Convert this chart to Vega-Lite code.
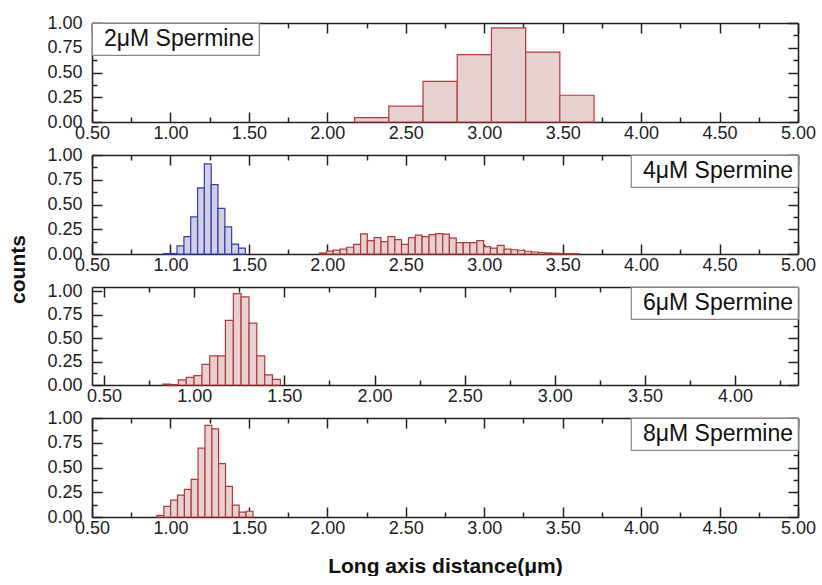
{
  "$schema": "https://vega.github.io/schema/vega-lite/v6.json",
  "background": "white",
  "padding": {"left": 7, "top": 14, "right": 0, "bottom": 0},
  "bounds": "flush",
  "spacing": 33,
  "config": {
    "font": "Liberation Sans",
    "view": {"stroke": null},
    "axis": {
      "domain": true, "domainColor": "#222", "domainWidth": 1.6, "grid": false, "tickColor": "#222", "tickWidth": 1.5,
      "labelFlush": false, "labelOverlap": false,
      "labelFont": "Liberation Sans", "labelFontSize": 18, "labelColor": "#222",
      "titleFont": "Liberation Sans", "titleFontSize": 21, "titleFontWeight": "bold", "titleColor": "#111"
    },
    "legend": {
      "title": null, "padding": 4, "strokeColor": "#888", "fillColor": "white", "strokeWidth": 1.2,
      "labelFont": "Liberation Sans", "labelFontSize": 23, "labelColor": "#111", "labelOffset": -15,
      "symbolSize": 0, "symbolStrokeWidth": 0, "symbolOpacity": 0, "symbolFillColor": "transparent",
      "offset": 0
    }
  },
  "datasets": {
    "p1": [
      {"x0": 2.174, "x1": 2.392, "n": 0.045, "g": "r", "lab": "2μM Spermine"},
      {"x0": 2.392, "x1": 2.610, "n": 0.16, "g": "r", "lab": "2μM Spermine"},
      {"x0": 2.610, "x1": 2.828, "n": 0.41, "g": "r", "lab": "2μM Spermine"},
      {"x0": 2.828, "x1": 3.046, "n": 0.68, "g": "r", "lab": "2μM Spermine"},
      {"x0": 3.046, "x1": 3.264, "n": 0.95, "g": "r", "lab": "2μM Spermine"},
      {"x0": 3.264, "x1": 3.482, "n": 0.705, "g": "r", "lab": "2μM Spermine"},
      {"x0": 3.482, "x1": 3.700, "n": 0.27, "g": "r", "lab": "2μM Spermine"}
    ],
    "p2": [
      {"x0": 0.955, "x1": 0.999, "n": 0.005, "g": "b", "lab": "4μM Spermine"},
      {"x0": 0.999, "x1": 1.042, "n": 0.005, "g": "b", "lab": "4μM Spermine"},
      {"x0": 1.042, "x1": 1.086, "n": 0.083, "g": "b", "lab": "4μM Spermine"},
      {"x0": 1.086, "x1": 1.129, "n": 0.175, "g": "b", "lab": "4μM Spermine"},
      {"x0": 1.129, "x1": 1.173, "n": 0.375, "g": "b", "lab": "4μM Spermine"},
      {"x0": 1.173, "x1": 1.216, "n": 0.667, "g": "b", "lab": "4μM Spermine"},
      {"x0": 1.216, "x1": 1.260, "n": 0.91, "g": "b", "lab": "4μM Spermine"},
      {"x0": 1.260, "x1": 1.303, "n": 0.70, "g": "b", "lab": "4μM Spermine"},
      {"x0": 1.303, "x1": 1.347, "n": 0.46, "g": "b", "lab": "4μM Spermine"},
      {"x0": 1.347, "x1": 1.390, "n": 0.275, "g": "b", "lab": "4μM Spermine"},
      {"x0": 1.390, "x1": 1.434, "n": 0.10, "g": "b", "lab": "4μM Spermine"},
      {"x0": 1.434, "x1": 1.477, "n": 0.06, "g": "b", "lab": "4μM Spermine"},
      {"x0": 1.950, "x1": 1.994, "n": 0.01, "g": "r", "lab": "4μM Spermine"},
      {"x0": 1.994, "x1": 2.037, "n": 0.03, "g": "r", "lab": "4μM Spermine"},
      {"x0": 2.037, "x1": 2.081, "n": 0.04, "g": "r", "lab": "4μM Spermine"},
      {"x0": 2.081, "x1": 2.124, "n": 0.05, "g": "r", "lab": "4μM Spermine"},
      {"x0": 2.124, "x1": 2.168, "n": 0.068, "g": "r", "lab": "4μM Spermine"},
      {"x0": 2.168, "x1": 2.212, "n": 0.097, "g": "r", "lab": "4μM Spermine"},
      {"x0": 2.212, "x1": 2.255, "n": 0.203, "g": "r", "lab": "4μM Spermine"},
      {"x0": 2.255, "x1": 2.299, "n": 0.135, "g": "r", "lab": "4μM Spermine"},
      {"x0": 2.299, "x1": 2.342, "n": 0.165, "g": "r", "lab": "4μM Spermine"},
      {"x0": 2.342, "x1": 2.386, "n": 0.125, "g": "r", "lab": "4μM Spermine"},
      {"x0": 2.386, "x1": 2.430, "n": 0.175, "g": "r", "lab": "4μM Spermine"},
      {"x0": 2.430, "x1": 2.473, "n": 0.145, "g": "r", "lab": "4μM Spermine"},
      {"x0": 2.473, "x1": 2.517, "n": 0.097, "g": "r", "lab": "4μM Spermine"},
      {"x0": 2.517, "x1": 2.560, "n": 0.165, "g": "r", "lab": "4μM Spermine"},
      {"x0": 2.560, "x1": 2.604, "n": 0.19, "g": "r", "lab": "4μM Spermine"},
      {"x0": 2.604, "x1": 2.648, "n": 0.175, "g": "r", "lab": "4μM Spermine"},
      {"x0": 2.648, "x1": 2.691, "n": 0.195, "g": "r", "lab": "4μM Spermine"},
      {"x0": 2.691, "x1": 2.735, "n": 0.205, "g": "r", "lab": "4μM Spermine"},
      {"x0": 2.735, "x1": 2.778, "n": 0.20, "g": "r", "lab": "4μM Spermine"},
      {"x0": 2.778, "x1": 2.822, "n": 0.16, "g": "r", "lab": "4μM Spermine"},
      {"x0": 2.822, "x1": 2.866, "n": 0.115, "g": "r", "lab": "4μM Spermine"},
      {"x0": 2.866, "x1": 2.909, "n": 0.115, "g": "r", "lab": "4μM Spermine"},
      {"x0": 2.909, "x1": 2.953, "n": 0.115, "g": "r", "lab": "4μM Spermine"},
      {"x0": 2.953, "x1": 2.996, "n": 0.135, "g": "r", "lab": "4μM Spermine"},
      {"x0": 2.996, "x1": 3.040, "n": 0.075, "g": "r", "lab": "4μM Spermine"},
      {"x0": 3.040, "x1": 3.083, "n": 0.06, "g": "r", "lab": "4μM Spermine"},
      {"x0": 3.083, "x1": 3.127, "n": 0.088, "g": "r", "lab": "4μM Spermine"},
      {"x0": 3.127, "x1": 3.171, "n": 0.05, "g": "r", "lab": "4μM Spermine"},
      {"x0": 3.171, "x1": 3.214, "n": 0.043, "g": "r", "lab": "4μM Spermine"},
      {"x0": 3.214, "x1": 3.258, "n": 0.038, "g": "r", "lab": "4μM Spermine"},
      {"x0": 3.258, "x1": 3.301, "n": 0.028, "g": "r", "lab": "4μM Spermine"},
      {"x0": 3.301, "x1": 3.345, "n": 0.02, "g": "r", "lab": "4μM Spermine"},
      {"x0": 3.345, "x1": 3.388, "n": 0.015, "g": "r", "lab": "4μM Spermine"},
      {"x0": 3.388, "x1": 3.432, "n": 0.01, "g": "r", "lab": "4μM Spermine"},
      {"x0": 3.432, "x1": 3.476, "n": 0.008, "g": "r", "lab": "4μM Spermine"},
      {"x0": 3.476, "x1": 3.519, "n": 0.005, "g": "r", "lab": "4μM Spermine"},
      {"x0": 3.519, "x1": 3.563, "n": 0.004, "g": "r", "lab": "4μM Spermine"},
      {"x0": 3.563, "x1": 3.606, "n": 0.003, "g": "r", "lab": "4μM Spermine"}
    ],
    "p3": [
      {"x0": 0.825, "x1": 0.869, "n": 0.01, "g": "r", "lab": "6μM Spermine"},
      {"x0": 0.869, "x1": 0.912, "n": 0.005, "g": "r", "lab": "6μM Spermine"},
      {"x0": 0.912, "x1": 0.956, "n": 0.054, "g": "r", "lab": "6μM Spermine"},
      {"x0": 0.956, "x1": 0.999, "n": 0.082, "g": "r", "lab": "6μM Spermine"},
      {"x0": 0.999, "x1": 1.043, "n": 0.10, "g": "r", "lab": "6μM Spermine"},
      {"x0": 1.043, "x1": 1.086, "n": 0.22, "g": "r", "lab": "6μM Spermine"},
      {"x0": 1.086, "x1": 1.130, "n": 0.31, "g": "r", "lab": "6μM Spermine"},
      {"x0": 1.130, "x1": 1.173, "n": 0.31, "g": "r", "lab": "6μM Spermine"},
      {"x0": 1.173, "x1": 1.217, "n": 0.69, "g": "r", "lab": "6μM Spermine"},
      {"x0": 1.217, "x1": 1.260, "n": 0.975, "g": "r", "lab": "6μM Spermine"},
      {"x0": 1.260, "x1": 1.304, "n": 0.94, "g": "r", "lab": "6μM Spermine"},
      {"x0": 1.304, "x1": 1.347, "n": 0.66, "g": "r", "lab": "6μM Spermine"},
      {"x0": 1.347, "x1": 1.391, "n": 0.31, "g": "r", "lab": "6μM Spermine"},
      {"x0": 1.391, "x1": 1.434, "n": 0.107, "g": "r", "lab": "6μM Spermine"},
      {"x0": 1.434, "x1": 1.478, "n": 0.06, "g": "r", "lab": "6μM Spermine"}
    ],
    "p4": [
      {"x0": 0.914, "x1": 0.958, "n": 0.017, "g": "r", "lab": "8μM Spermine"},
      {"x0": 0.958, "x1": 1.001, "n": 0.108, "g": "r", "lab": "8μM Spermine"},
      {"x0": 1.001, "x1": 1.045, "n": 0.17, "g": "r", "lab": "8μM Spermine"},
      {"x0": 1.045, "x1": 1.089, "n": 0.22, "g": "r", "lab": "8μM Spermine"},
      {"x0": 1.089, "x1": 1.132, "n": 0.28, "g": "r", "lab": "8μM Spermine"},
      {"x0": 1.132, "x1": 1.176, "n": 0.38, "g": "r", "lab": "8μM Spermine"},
      {"x0": 1.176, "x1": 1.220, "n": 0.695, "g": "r", "lab": "8μM Spermine"},
      {"x0": 1.220, "x1": 1.264, "n": 0.925, "g": "r", "lab": "8μM Spermine"},
      {"x0": 1.264, "x1": 1.307, "n": 0.89, "g": "r", "lab": "8μM Spermine"},
      {"x0": 1.307, "x1": 1.351, "n": 0.54, "g": "r", "lab": "8μM Spermine"},
      {"x0": 1.351, "x1": 1.395, "n": 0.31, "g": "r", "lab": "8μM Spermine"},
      {"x0": 1.395, "x1": 1.438, "n": 0.12, "g": "r", "lab": "8μM Spermine"},
      {"x0": 1.438, "x1": 1.482, "n": 0.05, "g": "r", "lab": "8μM Spermine"},
      {"x0": 1.482, "x1": 1.526, "n": 0.058, "g": "r", "lab": "8μM Spermine"}
    ]
  },
  "resolve": {"scale": {"opacity": "independent"}, "legend": {"opacity": "independent"}},
  "vconcat": [
    {
      "width": 706, "height": 99,
      "data": {"name": "p1"},
      "resolve": {"axis": {"x": "independent", "y": "independent"}},
      "layer": [
        {
          "mark": {"type": "bar", "strokeWidth": 1.2},
          "encoding": {
            "x": {"field": "x0", "type": "quantitative", "scale": {"domain": [0.5, 5.0], "nice": false, "zero": false},
                  "axis": {"orient": "bottom", "title": null, "values": [0.5,1,1.5,2,2.5,3,3.5,4,4.5,5], "format": ".2f", "tickSize": -10, "labelPadding": 12}},
            "x2": {"field": "x1"},
            "y": {"field": "n", "type": "quantitative", "scale": {"domain": [0, 1], "nice": false},
                  "axis": {"orient": "left", "title": null, "values": [0,0.25,0.5,0.75,1], "format": ".2f", "tickSize": -10, "labelPadding": 20}},
            "y2": {"datum": 0},
            "fill": {"field": "g", "type": "nominal", "scale": {"domain": ["b","r"], "range": ["#cfd0e6","#e6d0d0"]}, "legend": null},
            "stroke": {"field": "g", "type": "nominal", "scale": {"domain": ["b","r"], "range": ["#3b3bb0","#b23b3b"]}, "legend": null},
            "opacity": {"field": "lab", "type": "ordinal", "scale": {"range": [1, 1]}, "legend": {"orient": "top-left"}}
          }
        },
        {
          "mark": {"type": "bar", "opacity": 0},
          "encoding": {
            "x": {"field": "x0", "type": "quantitative", "axis": {"orient": "bottom", "domain": false, "title": null, "labels": false, "values": [0.75,1.25,1.75,2.25,2.75,3.25,3.75,4.25,4.75], "tickSize": -5}},
            "x2": {"field": "x1"},
            "y": {"field": "n", "type": "quantitative", "axis": {"orient": "left", "domain": false, "title": null, "labels": false, "values": [0.125,0.375,0.625,0.875], "tickSize": -5}},
            "y2": {"datum": 0}
          }
        },
        {
          "mark": {"type": "bar", "opacity": 0},
          "encoding": {
            "x": {"field": "x0", "type": "quantitative", "axis": {"orient": "top", "title": null, "labels": false, "values": [0.5,1,1.5,2,2.5,3,3.5,4,4.5,5], "tickSize": -10}},
            "x2": {"field": "x1"},
            "y": {"field": "n", "type": "quantitative", "axis": {"orient": "right", "title": null, "labels": false, "values": [0,0.25,0.5,0.75,1], "tickSize": -10}},
            "y2": {"datum": 0}
          }
        },
        {
          "mark": {"type": "bar", "opacity": 0},
          "encoding": {
            "x": {"field": "x0", "type": "quantitative", "axis": {"orient": "top", "domain": false, "title": null, "labels": false, "values": [0.75,1.25,1.75,2.25,2.75,3.25,3.75,4.25,4.75], "tickSize": -5}},
            "x2": {"field": "x1"},
            "y": {"field": "n", "type": "quantitative", "axis": {"orient": "right", "domain": false, "title": null, "labels": false, "values": [0.125,0.375,0.625,0.875], "tickSize": -5}},
            "y2": {"datum": 0}
          }
        }
      ]
    },
    {
      "width": 706, "height": 99,
      "data": {"name": "p2"},
      "resolve": {"axis": {"x": "independent", "y": "independent"}},
      "layer": [
        {
          "mark": {"type": "bar", "strokeWidth": 1.2},
          "encoding": {
            "x": {"field": "x0", "type": "quantitative", "scale": {"domain": [0.5, 5.0], "nice": false, "zero": false},
                  "axis": {"orient": "bottom", "title": null, "values": [0.5,1,1.5,2,2.5,3,3.5,4,4.5,5], "format": ".2f", "tickSize": -10, "labelPadding": 12}},
            "x2": {"field": "x1"},
            "y": {"field": "n", "type": "quantitative", "scale": {"domain": [0, 1], "nice": false},
                  "axis": {"orient": "left", "title": "counts", "titleX": -68, "titleY": 114, "titleBaseline": "alphabetic", "values": [0,0.25,0.5,0.75,1], "format": ".2f", "tickSize": -10, "labelPadding": 20}},
            "y2": {"datum": 0},
            "fill": {"field": "g", "type": "nominal", "scale": {"domain": ["b","r"], "range": ["#cfd0e6","#e6d0d0"]}, "legend": null},
            "stroke": {"field": "g", "type": "nominal", "scale": {"domain": ["b","r"], "range": ["#3b3bb0","#b23b3b"]}, "legend": null},
            "opacity": {"field": "lab", "type": "ordinal", "scale": {"range": [1, 1]}, "legend": {"orient": "top-right"}}
          }
        },
        {
          "mark": {"type": "bar", "opacity": 0},
          "encoding": {
            "x": {"field": "x0", "type": "quantitative", "axis": {"orient": "bottom", "domain": false, "title": null, "labels": false, "values": [0.75,1.25,1.75,2.25,2.75,3.25,3.75,4.25,4.75], "tickSize": -5}},
            "x2": {"field": "x1"},
            "y": {"field": "n", "type": "quantitative", "axis": {"orient": "left", "domain": false, "title": null, "labels": false, "values": [0.125,0.375,0.625,0.875], "tickSize": -5}},
            "y2": {"datum": 0}
          }
        },
        {
          "mark": {"type": "bar", "opacity": 0},
          "encoding": {
            "x": {"field": "x0", "type": "quantitative", "axis": {"orient": "top", "title": null, "labels": false, "values": [0.5,1,1.5,2,2.5,3,3.5,4,4.5,5], "tickSize": -10}},
            "x2": {"field": "x1"},
            "y": {"field": "n", "type": "quantitative", "axis": {"orient": "right", "title": null, "labels": false, "values": [0,0.25,0.5,0.75,1], "tickSize": -10}},
            "y2": {"datum": 0}
          }
        },
        {
          "mark": {"type": "bar", "opacity": 0},
          "encoding": {
            "x": {"field": "x0", "type": "quantitative", "axis": {"orient": "top", "domain": false, "title": null, "labels": false, "values": [0.75,1.25,1.75,2.25,2.75,3.25,3.75,4.25,4.75], "tickSize": -5}},
            "x2": {"field": "x1"},
            "y": {"field": "n", "type": "quantitative", "axis": {"orient": "right", "domain": false, "title": null, "labels": false, "values": [0.125,0.375,0.625,0.875], "tickSize": -5}},
            "y2": {"datum": 0}
          }
        }
      ]
    },
    {
      "width": 706, "height": 98,
      "data": {"name": "p3"},
      "resolve": {"axis": {"x": "independent", "y": "independent"}},
      "layer": [
        {
          "mark": {"type": "bar", "strokeWidth": 1.2},
          "encoding": {
            "x": {"field": "x0", "type": "quantitative", "scale": {"domain": [0.433, 4.349], "nice": false, "zero": false},
                  "axis": {"orient": "bottom", "title": null, "values": [0.5,1,1.5,2,2.5,3,3.5,4], "format": ".2f", "tickSize": -10, "labelPadding": 12}},
            "x2": {"field": "x1"},
            "y": {"field": "n", "type": "quantitative", "scale": {"domain": [0, 1.045], "nice": false},
                  "axis": {"orient": "left", "title": null, "values": [0,0.25,0.5,0.75,1], "format": ".2f", "tickSize": -10, "labelPadding": 20}},
            "y2": {"datum": 0},
            "fill": {"field": "g", "type": "nominal", "scale": {"domain": ["b","r"], "range": ["#cfd0e6","#e6d0d0"]}, "legend": null},
            "stroke": {"field": "g", "type": "nominal", "scale": {"domain": ["b","r"], "range": ["#3b3bb0","#b23b3b"]}, "legend": null},
            "opacity": {"field": "lab", "type": "ordinal", "scale": {"range": [1, 1]}, "legend": {"orient": "top-right"}}
          }
        },
        {
          "mark": {"type": "bar", "opacity": 0},
          "encoding": {
            "x": {"field": "x0", "type": "quantitative", "axis": {"orient": "bottom", "domain": false, "title": null, "labels": false, "values": [0.75,1.25,1.75,2.25,2.75,3.25,3.75,4.25], "tickSize": -5}},
            "x2": {"field": "x1"},
            "y": {"field": "n", "type": "quantitative", "axis": {"orient": "left", "domain": false, "title": null, "labels": false, "values": [0.125,0.375,0.625,0.875], "tickSize": -5}},
            "y2": {"datum": 0}
          }
        },
        {
          "mark": {"type": "bar", "opacity": 0},
          "encoding": {
            "x": {"field": "x0", "type": "quantitative", "axis": {"orient": "top", "title": null, "labels": false, "values": [0.5,1,1.5,2,2.5,3,3.5,4], "tickSize": -10}},
            "x2": {"field": "x1"},
            "y": {"field": "n", "type": "quantitative", "axis": {"orient": "right", "title": null, "labels": false, "values": [0,0.25,0.5,0.75,1], "tickSize": -10}},
            "y2": {"datum": 0}
          }
        },
        {
          "mark": {"type": "bar", "opacity": 0},
          "encoding": {
            "x": {"field": "x0", "type": "quantitative", "axis": {"orient": "top", "domain": false, "title": null, "labels": false, "values": [0.75,1.25,1.75,2.25,2.75,3.25,3.75,4.25], "tickSize": -5}},
            "x2": {"field": "x1"},
            "y": {"field": "n", "type": "quantitative", "axis": {"orient": "right", "domain": false, "title": null, "labels": false, "values": [0.125,0.375,0.625,0.875], "tickSize": -5}},
            "y2": {"datum": 0}
          }
        }
      ]
    },
    {
      "width": 706, "height": 99,
      "data": {"name": "p4"},
      "resolve": {"axis": {"x": "independent", "y": "independent"}},
      "layer": [
        {
          "mark": {"type": "bar", "strokeWidth": 1.2},
          "encoding": {
            "x": {"field": "x0", "type": "quantitative", "scale": {"domain": [0.5, 5.0], "nice": false, "zero": false},
                  "axis": {"orient": "bottom", "title": "Long axis distance(μm)", "titlePadding": 18, "values": [0.5,1,1.5,2,2.5,3,3.5,4,4.5,5], "format": ".2f", "tickSize": -10, "labelPadding": 12}},
            "x2": {"field": "x1"},
            "y": {"field": "n", "type": "quantitative", "scale": {"domain": [0, 1], "nice": false},
                  "axis": {"orient": "left", "title": null, "values": [0,0.25,0.5,0.75,1], "format": ".2f", "tickSize": -10, "labelPadding": 20}},
            "y2": {"datum": 0},
            "fill": {"field": "g", "type": "nominal", "scale": {"domain": ["b","r"], "range": ["#cfd0e6","#e6d0d0"]}, "legend": null},
            "stroke": {"field": "g", "type": "nominal", "scale": {"domain": ["b","r"], "range": ["#3b3bb0","#b23b3b"]}, "legend": null},
            "opacity": {"field": "lab", "type": "ordinal", "scale": {"range": [1, 1]}, "legend": {"orient": "top-right"}}
          }
        },
        {
          "mark": {"type": "bar", "opacity": 0},
          "encoding": {
            "x": {"field": "x0", "type": "quantitative", "axis": {"orient": "bottom", "domain": false, "title": null, "labels": false, "values": [0.75,1.25,1.75,2.25,2.75,3.25,3.75,4.25,4.75], "tickSize": -5}},
            "x2": {"field": "x1"},
            "y": {"field": "n", "type": "quantitative", "axis": {"orient": "left", "domain": false, "title": null, "labels": false, "values": [0.125,0.375,0.625,0.875], "tickSize": -5}},
            "y2": {"datum": 0}
          }
        },
        {
          "mark": {"type": "bar", "opacity": 0},
          "encoding": {
            "x": {"field": "x0", "type": "quantitative", "axis": {"orient": "top", "title": null, "labels": false, "values": [0.5,1,1.5,2,2.5,3,3.5,4,4.5,5], "tickSize": -10}},
            "x2": {"field": "x1"},
            "y": {"field": "n", "type": "quantitative", "axis": {"orient": "right", "title": null, "labels": false, "values": [0,0.25,0.5,0.75,1], "tickSize": -10}},
            "y2": {"datum": 0}
          }
        },
        {
          "mark": {"type": "bar", "opacity": 0},
          "encoding": {
            "x": {"field": "x0", "type": "quantitative", "axis": {"orient": "top", "domain": false, "title": null, "labels": false, "values": [0.75,1.25,1.75,2.25,2.75,3.25,3.75,4.25,4.75], "tickSize": -5}},
            "x2": {"field": "x1"},
            "y": {"field": "n", "type": "quantitative", "axis": {"orient": "right", "domain": false, "title": null, "labels": false, "values": [0.125,0.375,0.625,0.875], "tickSize": -5}},
            "y2": {"datum": 0}
          }
        }
      ]
    }
  ]
}
